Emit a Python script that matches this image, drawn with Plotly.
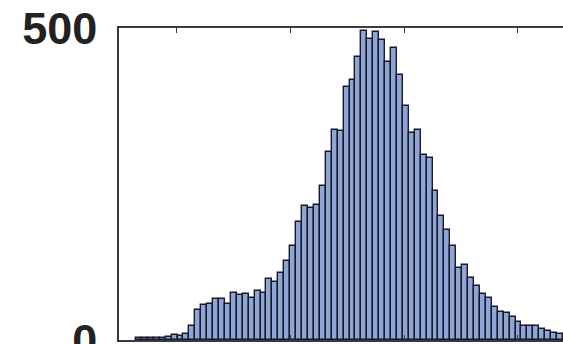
import plotly.graph_objects as go

# histogram counts, one value per bin
counts = [4, 4, 4, 4, 4, 5, 8, 6, 10, 22,
          48, 56, 58, 66, 66, 58, 76, 72, 74, 68,
          78, 76, 98, 93, 107, 127, 151, 189, 214, 211,
          216, 247, 301, 337, 335, 406, 416, 454, 495, 482,
          493, 481, 445, 468, 425, 375, 332, 337, 297, 292,
          238, 199, 176, 151, 115, 120, 99, 87, 74, 68,
          53, 45, 43, 37, 29, 22, 22, 22, 18, 15,
          12, 9]
bins = list(range(len(counts)))

x_ticks = [6.25, 25.6, 44.8, 63.9]
y_ticks = [0, 500]
y_labels = ['0', '500']

fig = go.Figure()
fig.add_trace(go.Bar(x=bins,
                     y=counts,
                     width=1,
                     marker=dict(color='#8fa5d3',
                                 line=dict(color='#161a2c', width=1.4)),
                     ))
fig.update_layout(template='none',
                  width=563, height=344,
                  margin=dict(l=119, r=0, t=28, b=4),
                  plot_bgcolor='white', paper_bgcolor='white',
                  showlegend=False, bargap=0,
                  )
fig.update_xaxes(range=[-3.37, 71.5],
                 showline=True, linecolor='#3a3a3a', linewidth=1.5,
                 mirror='ticks', ticks='inside', ticklen=5,
                 tickcolor='#3a3a3a', tickwidth=1.3,
                 tickvals=x_ticks, showticklabels=False,
                 showgrid=False, zeroline=False, automargin=False)
fig.update_yaxes(range=[0, 500],
                 showline=True, linecolor='#3a3a3a', linewidth=1.5,
                 tickvals=y_ticks, ticktext=y_labels, ticks='',
                 tickfont=dict(family='Liberation Sans', size=45,
                               color='#222222', weight='bold'),
                 ticklabelstandoff=11, ticklabeloverflow='allow',
                 showgrid=False, zeroline=False, automargin=False)

# page margin off so the figure sits at the window corner
fig.write_html("out.html",
               config={'displayModeBar': False},
               post_script="document.body.style.margin='0';"
                           "document.body.style.overflow='hidden';")
